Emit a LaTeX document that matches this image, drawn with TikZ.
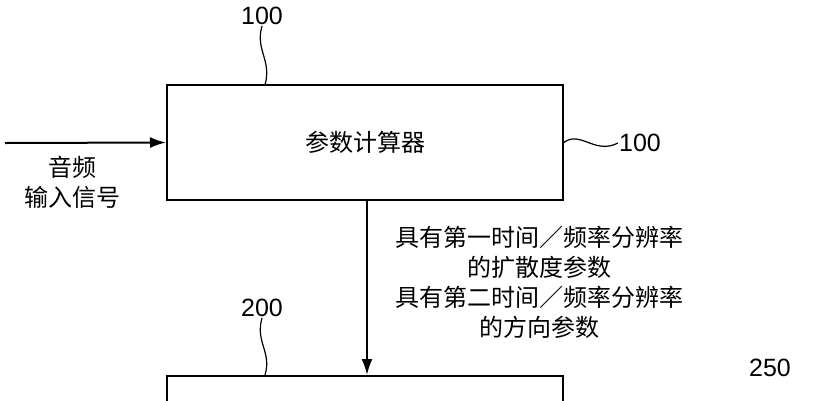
\documentclass[tikz,border=0pt]{standalone}
\usepackage{fontspec}
\setmainfont{Liberation Sans}
\newfontfamily\cjk{Noto Sans CJK SC}
\usetikzlibrary{arrows.meta,positioning}
\tikzset{
  blockbox/.style={draw, line width=2pt, minimum width=396pt, minimum height=115pt, font=\cjk\fontsize{24}{28}\selectfont},
  reftext/.style={font=\fontsize{25}{28}\selectfont, inner sep=1pt},
  lbl/.style={font=\cjk\fontsize{24}{30}\selectfont, align=center},
  flow/.style={-{Latex[length=16pt,width=11pt]}, line width=2pt},
  lead/.style={line width=1.2pt}
}
\begin{document}
\begin{tikzpicture}[x=1pt,y=-1pt]
  \clip (0,0) rectangle (819,400);
  \useasboundingbox (0,0) rectangle (819,400);
  \node[blockbox] (calc) at (365,142.5) {参数计算器};
  \node[blockbox, anchor=north] (synth) at (365,375) {};
  \coordinate (in) at (5,143);
  \draw[flow] (in) -- (calc.west);
  \node[lbl, font=\cjk\fontsize{24}{30}\selectfont] (inlbl) at (72,182) {音频\\输入信号};
  \draw[flow] (calc.south -| 367,0) -- (synth.north -| 367,0);
  \node[lbl, anchor=north, inner sep=0pt] (params) at (539,226) {具有第一时间／频率分辨率\\的扩散度参数\\具有第二时间／频率分辨率\\的方向参数};
  % reference numerals
  \node[reftext] (r100a) at (262,16) {100};
  \draw[lead] (r100a.south) .. controls (255,50) and (272,60) .. (265,85);
  \node[reftext] (r100b) at (640,143) {100};
  \draw[lead] (calc.east) .. controls (580,130) and (595,155) .. (r100b.west);
  \node[reftext] (r200) at (262,308) {200};
  \draw[lead] (r200.south) .. controls (255,342) and (272,352) .. (265,375);
  \node[reftext] (r250) at (770,368) {250};
\end{tikzpicture}
\end{document}
